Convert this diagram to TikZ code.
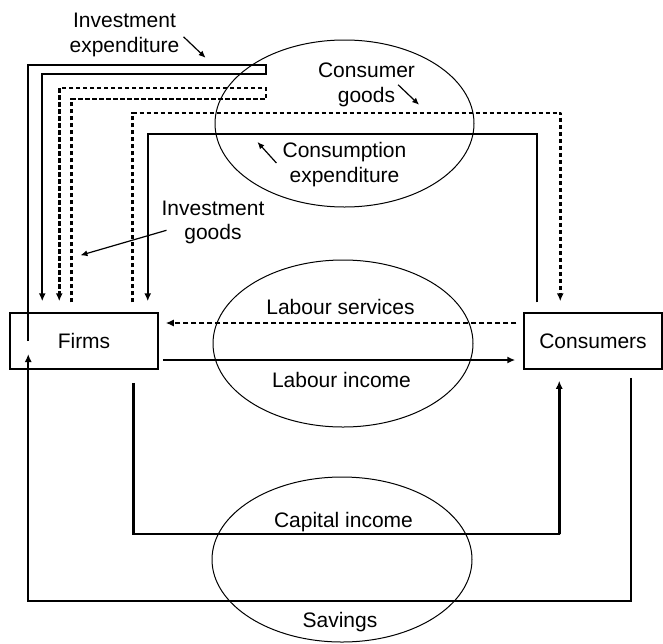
\documentclass[tikz,border=0pt]{standalone}
\usepackage{fontspec}
\setmainfont{Liberation Sans}
\usetikzlibrary{arrows.meta,shapes.geometric}

\begin{document}
\begin{tikzpicture}[x=1pt, y=-1pt,
		font=\fontsize{21}{24.5}\selectfont,
		box/.style={draw, line width=1.5pt, inner sep=0pt},
		market/.style={draw, ellipse, line width=1pt, inner sep=0pt},
		flow/.style={line width=2pt, -{Latex[length=8pt,width=7pt]}},
		goods/.style={line width=2.9pt, dash pattern=on 4.5pt off 2.5pt, -{Latex[length=8pt,width=7pt]}},
		services/.style={line width=1.4pt, dash pattern=on 5pt off 3pt, -{Latex[length=8pt,width=7pt]}},
		pointer/.style={line width=1.2pt, -{Latex[length=7pt,width=6pt]}},
		lbl/.style={align=center, inner sep=0pt}]
	\useasboundingbox (0,0) rectangle (663,643);
	
	% sectors
	\node[box, minimum width=148pt, minimum height=56pt] (firms) at (84,341) {Firms};
	\node[box, minimum width=138pt, minimum height=56pt] (consumers) at (593,341) {Consumers};
	
	% markets
	\node[market, minimum width=259pt, minimum height=167pt] (goodsmkt) at (344.5,123.5) {};
	\node[market, minimum width=260pt, minimum height=167pt] (labourmkt) at (343,343.5) {};
	\node[market, minimum width=260pt, minimum height=165pt] (capitalmkt) at (342,559.5) {};
	
	% goods market
	\draw[flow] ([xshift=19pt]firms.west) |- (266,65) -- (266,74) -| ([xshift=33pt,yshift=11pt]firms.north west);
	\draw[goods] ([xshift=62pt,yshift=10pt]firms.north west) |- (266,99) -- (266,88) -| ([xshift=50pt,yshift=11pt]firms.north west);
	\draw[goods] ([xshift=-26pt,yshift=10pt]firms.north east) |- (561,113) -| ([xshift=37pt,yshift=11pt]consumers.north west);
	\draw[flow, line width=2.4pt] ([xshift=14pt,yshift=10pt]consumers.north west) |- (148,134) -| ([xshift=-11pt,yshift=11pt]firms.north east);
	
	% labour market
	\draw[services] ([xshift=-7pt,yshift=18pt]consumers.west) -- ([xshift=7pt,yshift=18pt]firms.east);
	\draw[flow] ([xshift=4pt,yshift=-19pt]firms.east) -- ([xshift=-8pt,yshift=-19pt]consumers.west);
	
	% capital market
	\draw[flow, line width=2.8pt] ([xshift=-25pt,yshift=-13pt]firms.south east) |- (560,534) -| ([xshift=36pt,yshift=-11pt]consumers.south west);
	\draw[flow] ([xshift=108pt,yshift=-8pt]consumers.south west) |- (29,601) -| ([xshift=19pt,yshift=-13pt]firms.west);
	
	% labels
	\node[lbl] (invexp) at (124.5,34.8) {Investment\\expenditure};
	\node[lbl] (congoods) at (366.5,84.8) {Consumer\\goods};
	\node[lbl] (conexp) at (344.5,164.5) {Consumption\\expenditure};
	\node[lbl] (invgoods) at (213,222.3) {Investment\\goods};
	\node[lbl, anchor=base] (labserv) at (340.5,314) {Labour services};
	\node[lbl, anchor=base] (labinc) at (341.5,387) {Labour income};
	\node[lbl, anchor=base] (capinc) at (343.5,527) {Capital income};
	\node[lbl, anchor=base] (savings) at (340,627) {Savings};
	
	\draw[pointer] ([xshift=4pt,yshift=-2pt]invexp.east) -- ++(22,21);
	\draw[pointer] ([xshift=-17pt]congoods.east) -- ++(21,20);
	\draw[pointer] ([xshift=-6pt,yshift=1.5pt]conexp.west) -- ++(-19,-21);
	\draw[pointer] ([xshift=5pt,yshift=-8pt]invgoods.west) -- ++(-86,25);
\end{tikzpicture}
\end{document}
